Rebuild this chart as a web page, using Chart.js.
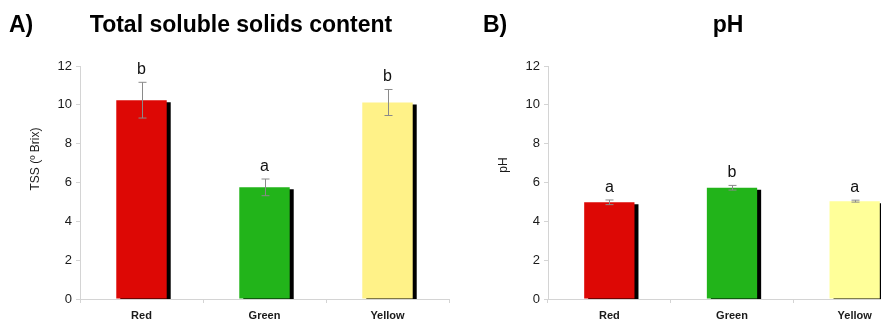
<!DOCTYPE html>
<html>
<head>
<meta charset="utf-8">
<script src="https://cdn.jsdelivr.net/npm/chart.js@4.4.1/dist/chart.umd.min.js"></script>
<style>
  html, body { margin: 0; padding: 0; background: #fff; overflow: hidden; width: 881px; height: 322px; }
  .panel { position: absolute; top: 0; }
  #panelA { left: 0; }
  #panelB { left: 460px; }
</style>
</head>
<body>
<div class="panel" id="panelA"><canvas id="chartA" width="460" height="322"></canvas></div>
<div class="panel" id="panelB"><canvas id="chartB" width="460" height="322"></canvas></div>
<script>
// Fruit colour categories
const categories = ['Red', 'Green', 'Yellow'];

// Total soluble solids (° Brix): means, error, significance letters
const tssMeans = [10.24, 5.75, 10.12];
const tssErrors = [0.92, 0.43, 0.67];
const tssLetters = ['b', 'a', 'b'];

// pH: means, error, significance letters
const phMeans = [4.98, 5.73, 5.04];
const phErrors = [0.12, 0.12, 0.05];
const phLetters = ['a', 'b', 'a'];

const yTicks = [0, 2, 4, 6, 8, 10, 12];

const tssColors = ['#dd0805', '#22b41a', '#fff288'];
const phColors = ['#dd0805', '#22b41a', '#ffff99'];

const FONT = 'Liberation Sans, Arial, Helvetica, sans-serif';

// Black drop shadow behind each bar
const barShadow = {
  id: 'barShadow',
  beforeDatasetsDraw(chart) {
    const ctx = chart.ctx;
    ctx.save();
    ctx.shadowColor = '#000';
    ctx.shadowBlur = 0;
    ctx.shadowOffsetX = 4;
    ctx.shadowOffsetY = 2;
  },
  afterDatasetsDraw(chart) {
    chart.ctx.restore();
  }
};

// Error bars, letters, axis caption and panel headings
const extras = {
  id: 'extras',
  afterDatasetsDraw(chart, args, opts) {
    const ctx = chart.ctx;
    const meta = chart.getDatasetMeta(0);
    const y = chart.scales.y;
    ctx.save();
    meta.data.forEach((bar, i) => {
      const m = opts.means[i], e = opts.errors[i];
      const yt = y.getPixelForValue(m + e);
      const yb = y.getPixelForValue(m - e);
      const x = Math.round(bar.x) + 0.5;
      ctx.strokeStyle = '#8a8a8a';
      ctx.lineWidth = 1;
      ctx.beginPath();
      ctx.moveTo(x, yt); ctx.lineTo(x, yb);
      ctx.moveTo(x - 4, yt); ctx.lineTo(x + 4, yt);
      ctx.moveTo(x - 4, yb); ctx.lineTo(x + 4, yb);
      ctx.stroke();
      ctx.fillStyle = '#111';
      ctx.font = '16px ' + FONT;
      ctx.textAlign = 'center';
      ctx.textBaseline = 'alphabetic';
      ctx.fillText(opts.letters[i], bar.x, yt - 8);
    });

    // vertical axis caption
    ctx.save();
    ctx.translate(opts.yTitleX, opts.yTitleY);
    ctx.rotate(-Math.PI / 2);
    ctx.fillStyle = '#1a1a1a';
    ctx.font = '12px ' + FONT;
    ctx.textAlign = 'center';
    ctx.textBaseline = 'middle';
    ctx.fillText(opts.yTitle, 0, 0);
    ctx.restore();

    ctx.fillStyle = '#000';
    ctx.font = 'bold 23px ' + FONT;
    ctx.textAlign = 'left';
    ctx.fillText(opts.tag, opts.tagX, 32);
    ctx.textAlign = 'center';
    ctx.fillText(opts.heading, opts.headingX, 32);
    ctx.restore();
  }
};

function makeChart(id, cfg) {
  return new Chart(document.getElementById(id), {
    type: 'bar',
    data: {
      labels: categories,
      datasets: [{
        data: cfg.means,
        backgroundColor: cfg.colors,
        borderWidth: 0,
        barPercentage: 0.41,
        categoryPercentage: 1
      }]
    },
    options: {
      responsive: false,
      animation: false,
      devicePixelRatio: 1,
      layout: { padding: { top: 66, left: 0, right: cfg.padRight, bottom: 0 } },
      plugins: {
        legend: { display: false },
        tooltip: { enabled: false },
        extras: cfg
      },
      scales: {
        x: {
          grid: { display: true, drawOnChartArea: false, tickLength: 4, color: '#d4d4d4', offset: true },
          border: { color: '#d4d4d4' },
          ticks: { color: '#1a1a1a', font: { family: FONT, size: 11, weight: 'bold' }, padding: 6, maxRotation: 0 },
          afterFit(scale) { scale.height = 23; }
        },
        y: {
          min: 0, max: 12,
          afterBuildTicks(scale) { scale.ticks = yTicks.map(v => ({ value: v })); },
          grid: { display: true, drawOnChartArea: false, tickLength: 4, color: '#d4d4d4' },
          border: { color: '#d4d4d4' },
          ticks: { color: '#1a1a1a', font: { family: FONT, size: 13 }, padding: 4 },
          afterFit(scale) { scale.width = cfg.yWidth; }
        }
      }
    },
    plugins: [barShadow, extras]
  });
}

makeChart('chartA', {
  means: tssMeans, errors: tssErrors, letters: tssLetters, colors: tssColors,
  yTitle: 'TSS (º Brix)', yTitleX: 36, yTitleY: 159, yWidth: 80, padRight: 11,
  tag: 'A)', tagX: 9, heading: 'Total soluble solids content', headingX: 241
});
makeChart('chartB', {
  means: phMeans, errors: phErrors, letters: phLetters, colors: phColors,
  yTitle: 'pH', yTitleX: 44, yTitleY: 165, yWidth: 88, padRight: 4,
  tag: 'B)', tagX: 23, heading: 'pH', headingX: 268
});
</script>
</body>
</html>
